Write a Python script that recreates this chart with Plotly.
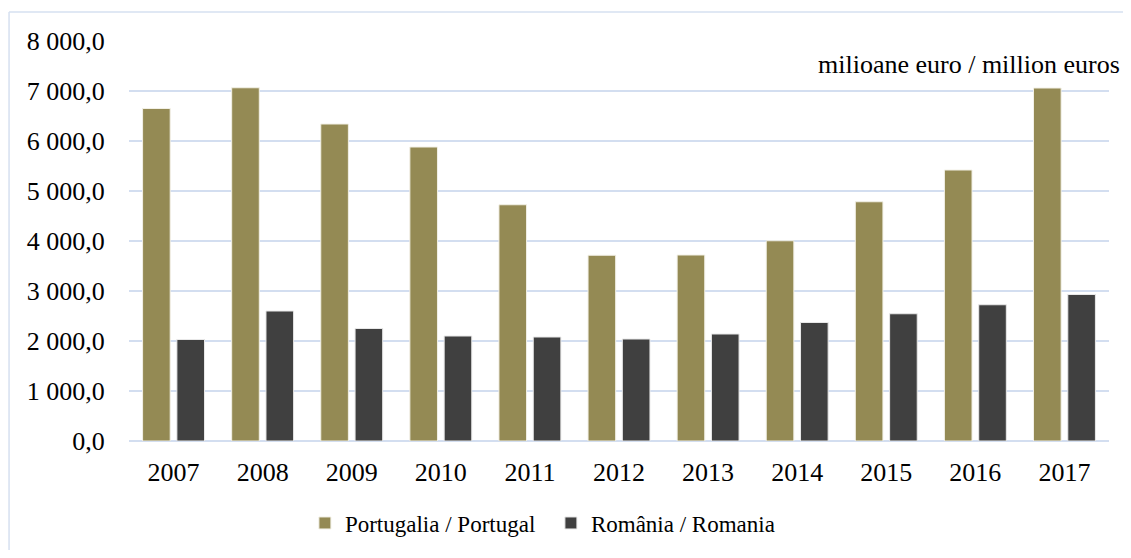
import plotly.graph_objects as go

years = ["2007", "2008", "2009", "2010", "2011", "2012", "2013", "2014", "2015", "2016", "2017"]
portugal = [6650, 7065, 6340, 5880, 4725, 3715, 3720, 4005, 4785, 5420, 7060]
romania = [2030, 2600, 2250, 2100, 2080, 2040, 2140, 2370, 2545, 2725, 2930]
series_names = ["Portugalia / Portugal", "România / Romania"]
unit_label = "milioane euro / million euros"

FONT = "Liberation Serif, Times New Roman, serif"
GRID = "#D3DEF0"

fig = go.Figure()
fig.add_trace(go.Bar(x=years, y=portugal, name=series_names[0],
                     marker=dict(color="#948A54", line=dict(color="#F2F0E6", width=1))))
fig.add_trace(go.Bar(x=years, y=romania, name=series_names[1],
                     marker=dict(color="#404040", line=dict(color="#E8E8E8", width=1))))

# page has an 8px body margin; figure sized to avoid scrollbars
fig.update_layout(
    width=1115, height=542,
    margin=dict(l=121, r=14, t=33, b=109, autoexpand=False),
    paper_bgcolor="white", plot_bgcolor="white",
    barmode="group", bargap=0.23, bargroupgap=0.195,
    separators=", ",
    font=dict(family=FONT, size=22, color="#000000"),
    legend=dict(orientation="h", xref="container", yref="container",
                x=0.1795 * 980 / 1115 + 121 / 1115, xanchor="left",
                y=0.0498, yanchor="middle",
                font=dict(family=FONT, size=23, color="#000000"), itemwidth=30,
                entrywidth=201, entrywidthmode="pixels", traceorder="normal"),
    showlegend=True,
)
fig.update_yaxes(range=[0, 8000], dtick=1000, tickformat=",.1f",
                 showgrid=True, gridcolor=GRID, gridwidth=1.5,
                 zeroline=True, zerolinecolor=GRID, zerolinewidth=1.5,
                 showline=False, ticks="outside", ticklen=18, tickcolor="rgba(0,0,0,0)",
                 tickfont=dict(family=FONT, size=26), automargin=False)
fig.update_xaxes(showgrid=False, showline=False, ticks="outside", ticklen=8,
                 tickcolor="rgba(0,0,0,0)", tickfont=dict(family=FONT, size=26),
                 automargin=False)

fig.add_annotation(text=unit_label, xref="paper", yref="y", x=1.0133, y=7530,
                   xanchor="right", yanchor="middle", showarrow=False,
                   font=dict(family=FONT, size=26))

# chart border (left and top edges visible)
fig.add_shape(type="line", xref="paper", yref="paper", x0=-0.1224, x1=-0.1224, y0=1.0725, y1=-0.4,
              line=dict(color="#D6E0F0", width=1.5))
fig.add_shape(type="line", xref="paper", yref="paper", x0=-0.1224, x1=1.1, y0=1.0725, y1=1.0725,
              line=dict(color="#D6E0F0", width=1.5))

fig.write_html("out.html")
